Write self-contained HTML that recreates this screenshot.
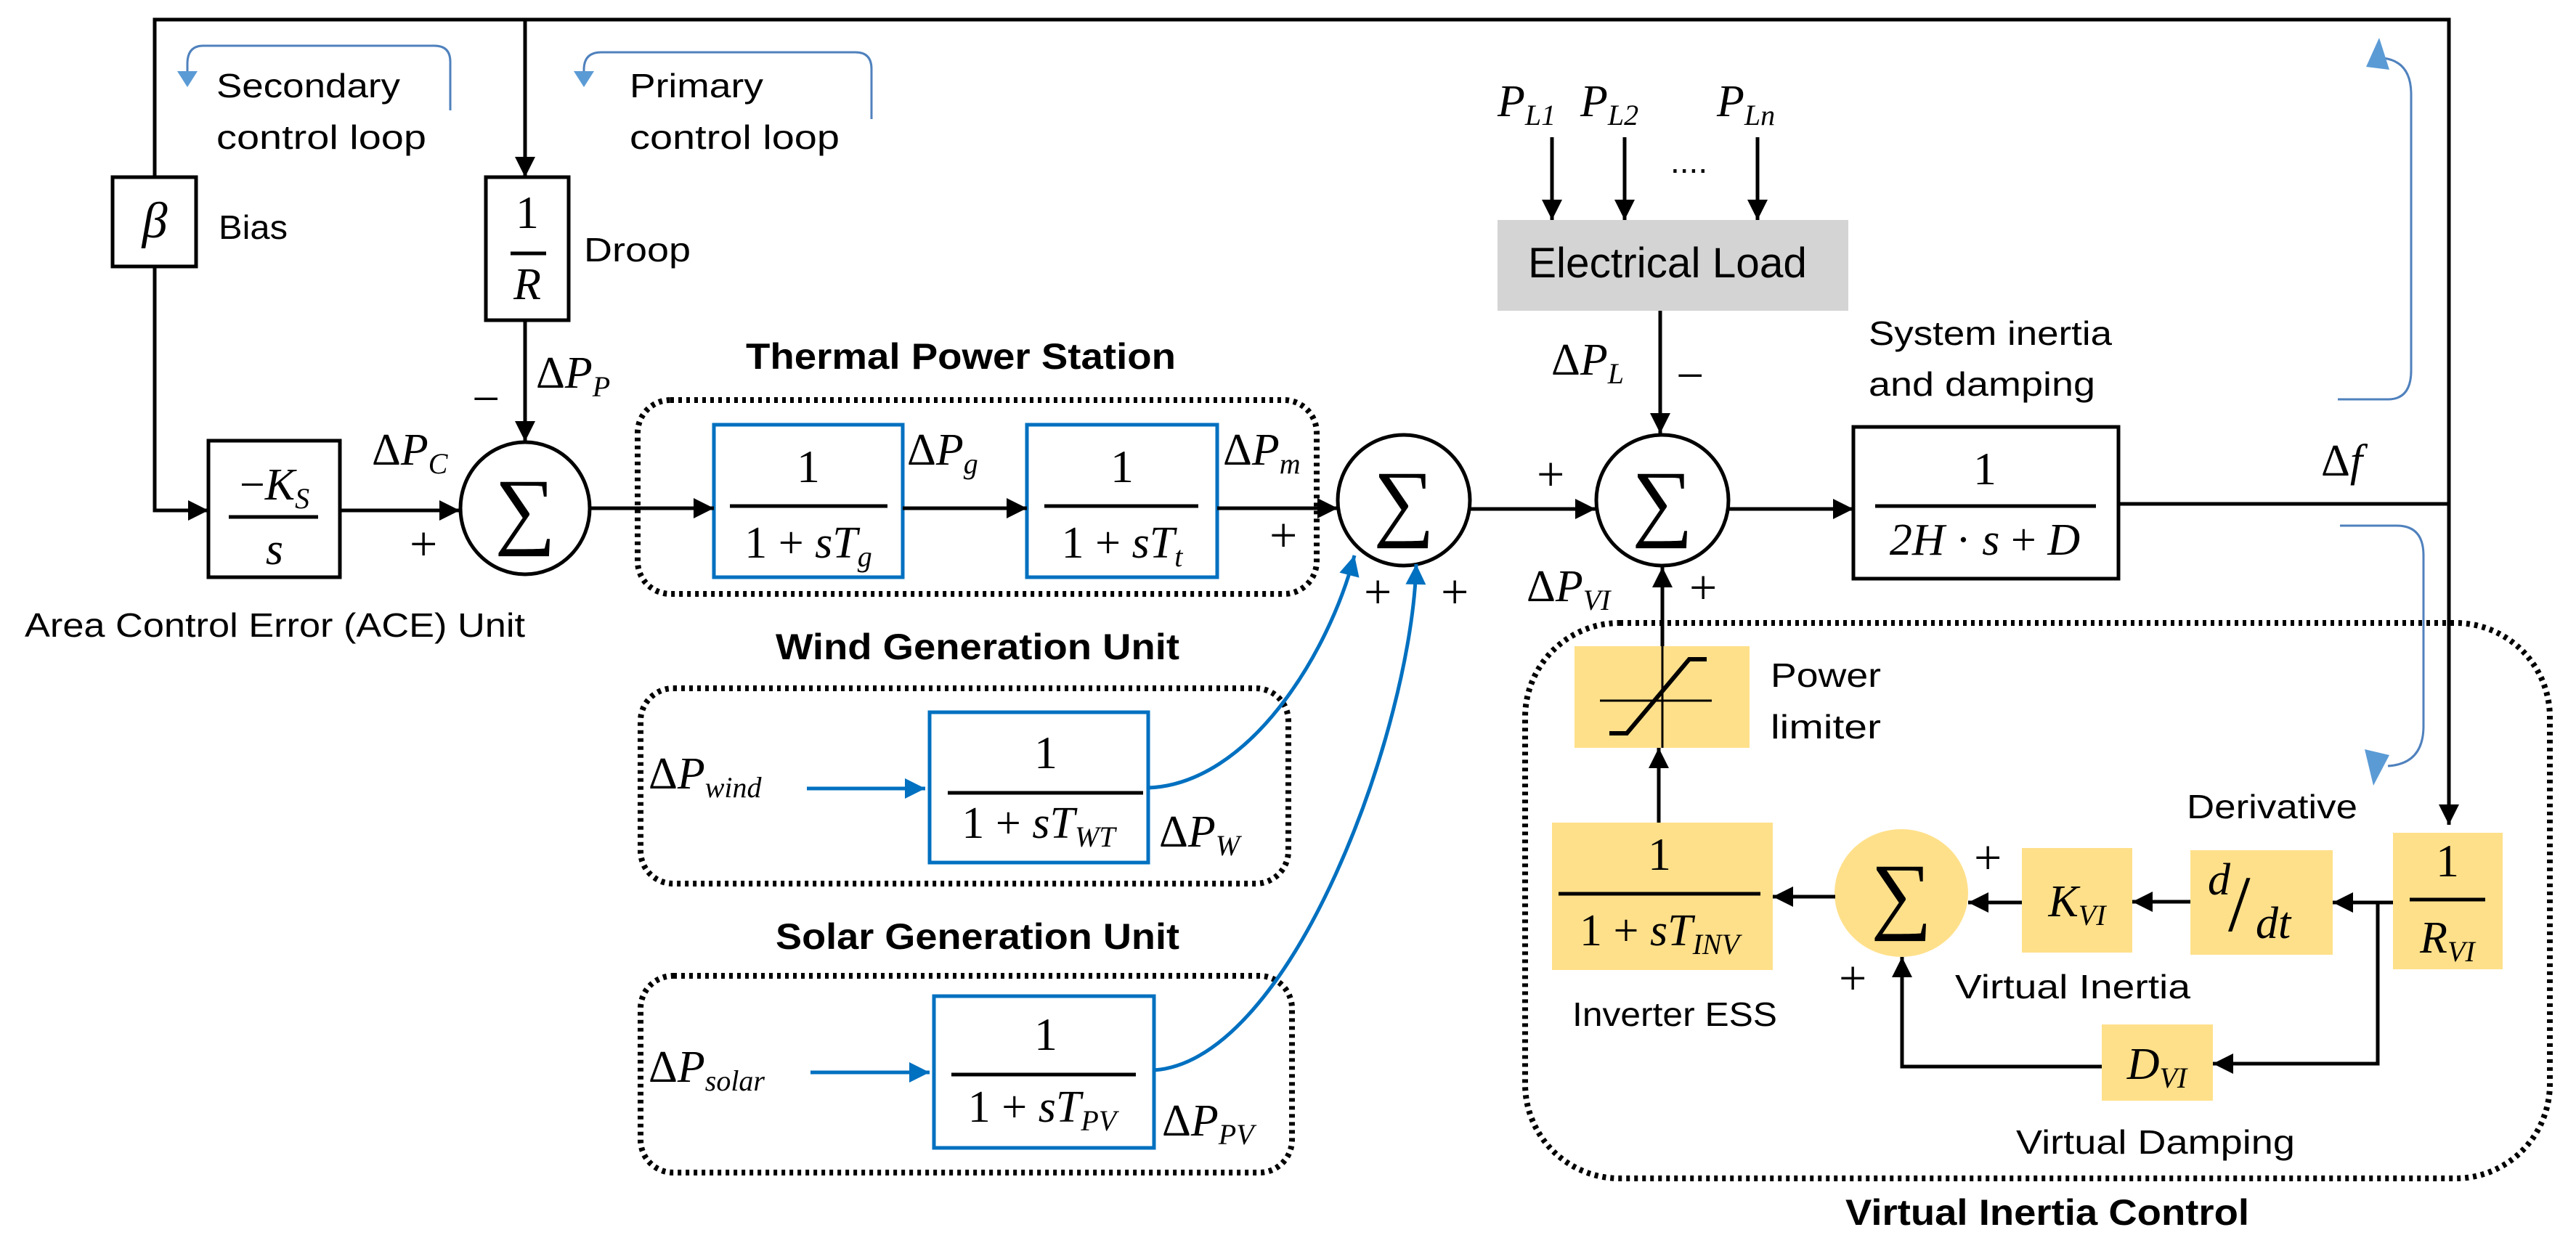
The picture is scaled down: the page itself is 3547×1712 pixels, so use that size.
<!DOCTYPE html>
<html><head><meta charset="utf-8"><style>
html,body{margin:0;padding:0;background:#fff;}
svg{display:block;}
.t{font-family:"Liberation Sans",sans-serif;font-size:46px;fill:#000;}
.b{font-family:"Liberation Sans",sans-serif;font-size:50px;font-weight:bold;fill:#000;}
.m{font-family:"Liberation Serif",serif;font-style:italic;font-size:62px;fill:#000;}
.n{font-family:"Liberation Serif",serif;font-size:64px;fill:#000;}
.s{font-size:40px;}
.sg{font-size:118px;}
.pm{font-size:68px;}
.k{stroke:#000;stroke-width:5;fill:none;}
.bl{stroke:#0070C0;stroke-width:5;fill:none;}
.lp{stroke:#4F81BD;stroke-width:3;fill:none;}
.dot{stroke:#000;stroke-width:8;stroke-dasharray:5 6;fill:none;}
</style></head><body>
<svg width="3547" height="1712" viewBox="0 0 3547 1712" xmlns="http://www.w3.org/2000/svg">
<defs>
<marker id="a" viewBox="0 0 10 10" refX="10" refY="5" markerWidth="32" markerHeight="28" markerUnits="userSpaceOnUse" orient="auto"><path d="M0,0 L10,5 L0,10 z" fill="#000"/></marker>
<marker id="ab" viewBox="0 0 10 10" refX="10" refY="5" markerWidth="32" markerHeight="28" markerUnits="userSpaceOnUse" orient="auto"><path d="M0,0 L10,5 L0,10 z" fill="#0070C0"/></marker>
</defs>

<rect class="dot" x="878" y="551" width="935" height="267" rx="45"/>
<rect class="dot" x="882" y="948" width="892" height="269" rx="45"/>
<rect class="dot" x="882" y="1344" width="897" height="271" rx="45"/>
<rect class="dot" x="2100" y="858" width="1411" height="765" rx="130"/>

<rect x="155" y="244" width="115" height="123" fill="#fff" stroke="#000" stroke-width="5"/>
<rect x="669" y="244" width="114" height="197" fill="#fff" stroke="#000" stroke-width="5"/>
<rect x="287" y="607" width="181" height="188" fill="#fff" stroke="#000" stroke-width="5"/>
<rect x="983" y="585" width="260" height="210" fill="#fff" stroke="#0070C0" stroke-width="5"/>
<rect x="1414" y="585" width="262" height="210" fill="#fff" stroke="#0070C0" stroke-width="5"/>
<rect x="1280" y="981" width="301" height="207" fill="#fff" stroke="#0070C0" stroke-width="5"/>
<rect x="1286" y="1372" width="303" height="209" fill="#fff" stroke="#0070C0" stroke-width="5"/>
<rect x="2552" y="588" width="365" height="209" fill="#fff" stroke="#000" stroke-width="5"/>
<rect x="2062" y="303" width="483" height="125" fill="#d4d4d4"/>

<ellipse cx="723" cy="700" rx="89" ry="91" fill="#fff" stroke="#000" stroke-width="5"/>
<ellipse cx="1933" cy="689" rx="91" ry="90" fill="#fff" stroke="#000" stroke-width="5"/>
<ellipse cx="2289" cy="689" rx="91" ry="90" fill="#fff" stroke="#000" stroke-width="5"/>

<g fill="#FFE08A">
<rect x="2168" y="890" width="241" height="140"/>
<rect x="2137" y="1133" width="304" height="203"/>
<ellipse cx="2618" cy="1230" rx="92" ry="88"/>
<rect x="2784" y="1168" width="152" height="144"/>
<rect x="3016" y="1171" width="196" height="144"/>
<rect x="3295" y="1147" width="151" height="188"/>
<rect x="2894" y="1411" width="153" height="105"/>
</g>

<path class="k" d="M213,244 V27 H3372 V1136" marker-end="url(#a)"/>
<path class="k" d="M213,367 V703 H287" marker-end="url(#a)"/>
<path class="k" d="M723,27 V244" marker-end="url(#a)"/>
<path class="k" d="M723,441 V608" marker-end="url(#a)"/>
<path class="k" d="M468,703 H633" marker-end="url(#a)"/>
<path class="k" d="M813,700 H983" marker-end="url(#a)"/>
<path class="k" d="M1243,700 H1414" marker-end="url(#a)"/>
<path class="k" d="M1676,700 H1842" marker-end="url(#a)"/>
<path class="k" d="M2025,701 H2197" marker-end="url(#a)"/>
<path class="k" d="M2381,701 H2552" marker-end="url(#a)"/>
<path class="k" d="M2917,694 H3372"/>
<path class="k" d="M2137,189 V303" marker-end="url(#a)"/>
<path class="k" d="M2237,189 V303" marker-end="url(#a)"/>
<path class="k" d="M2420,189 V303" marker-end="url(#a)"/>
<path class="k" d="M2286,428 V597" marker-end="url(#a)"/>
<path class="k" d="M2284,1133 V1030" marker-end="url(#a)"/>
<path class="k" d="M2289,890 V781" marker-end="url(#a)"/>
<path class="k" d="M2527,1235 H2441" marker-end="url(#a)"/>
<path class="k" d="M2784,1243 H2710" marker-end="url(#a)"/>
<path class="k" d="M3016,1242 H2936" marker-end="url(#a)"/>
<path class="k" d="M3295,1243 H3212" marker-end="url(#a)"/>
<path class="k" d="M3274,1243 V1465 H3047" marker-end="url(#a)"/>
<path class="k" d="M2894,1469 H2619 V1318" marker-end="url(#a)"/>

<path d="M2203,965 H2357" stroke="#000" stroke-width="3"/>
<path d="M2289,1030 V890" stroke="#000" stroke-width="3"/>
<path d="M2216,1010 H2240 L2326,908 H2350" stroke="#000" stroke-width="6" fill="none"/>

<path class="bl" d="M1111,1086 H1274" marker-end="url(#ab)"/>
<path class="bl" d="M1116,1477 H1280" marker-end="url(#ab)"/>
<path class="bl" d="M1581,1085 C1720,1080 1830,900 1865,765" marker-end="url(#ab)"/>
<path class="bl" d="M1589,1474 C1780,1460 1945,1000 1950,777" marker-end="url(#ab)"/>

<path class="lp" d="M620,152 V85 Q620,63 598,63 H280 Q258,63 258,88 V100"/>
<polygon points="244,98 272,98 258,120" fill="#5B9BD5"/>
<path class="lp" d="M1200,164 V95 Q1200,72 1178,72 H828 Q804,72 804,96 V100"/>
<polygon points="790,98 818,98 804,120" fill="#5B9BD5"/>
<path class="lp" d="M3219,550 H3288 Q3320,550 3320,510 V130 Q3320,85 3282,80"/>
<polygon points="3276,52 3258,92 3290,96" fill="#5B9BD5"/>
<path class="lp" d="M3222,724 H3300 Q3337,724 3337,765 V1000 Q3337,1052 3288,1055"/>
<polygon points="3268,1082 3256,1032 3290,1040" fill="#5B9BD5"/>

<text class="n sg" x="723" y="741" text-anchor="middle">∑</text>
<text class="n sg" x="1933" y="730" text-anchor="middle">∑</text>
<text class="n sg" x="2289" y="730" text-anchor="middle">∑</text>
<text class="n sg" x="2618" y="1271" text-anchor="middle">∑</text>

<text class="m" x="213" y="327" style="font-size:70px" text-anchor="middle">β</text>
<text class="n" x="726" y="314" text-anchor="middle">1</text>
<path d="M703,349 H752" stroke="#000" stroke-width="5"/>
<text class="m" x="726" y="412" text-anchor="middle">R</text>
<text class="m" x="378" y="688" text-anchor="middle"><tspan font-style="normal">−</tspan>K<tspan class="s" dy="12">S</tspan></text>
<path d="M315,712 H438" stroke="#000" stroke-width="5"/>
<text class="m" x="378" y="777" text-anchor="middle">s</text>

<text class="n" x="1113" y="664" text-anchor="middle">1</text>
<path d="M1005,697 H1222" stroke="#000" stroke-width="5"/>
<text class="m" x="1113" y="768" text-anchor="middle"><tspan font-style="normal">1 + </tspan>sT<tspan class="s" dy="12">g</tspan></text>
<text class="n" x="1545" y="664" text-anchor="middle">1</text>
<path d="M1438,697 H1650" stroke="#000" stroke-width="5"/>
<text class="m" x="1545" y="768" text-anchor="middle"><tspan font-style="normal">1 + </tspan>sT<tspan class="s" dy="12">t</tspan></text>

<text class="n" x="1440" y="1058" text-anchor="middle">1</text>
<path d="M1305,1092 H1574" stroke="#000" stroke-width="5"/>
<text class="m" x="1430" y="1154" text-anchor="middle"><tspan font-style="normal">1 + </tspan>sT<tspan class="s" dy="12">WT</tspan></text>
<text class="n" x="1440" y="1446" text-anchor="middle">1</text>
<path d="M1310,1480 H1564" stroke="#000" stroke-width="5"/>
<text class="m" x="1435" y="1545" text-anchor="middle"><tspan font-style="normal">1 + </tspan>sT<tspan class="s" dy="12">PV</tspan></text>

<text class="n" x="2733" y="667" text-anchor="middle">1</text>
<path d="M2582,697 H2886" stroke="#000" stroke-width="5"/>
<text class="m" x="2733" y="764" text-anchor="middle">2H<tspan font-style="normal"> · </tspan>s<tspan font-style="normal"> + </tspan>D</text>

<text class="n" x="2285" y="1198" text-anchor="middle">1</text>
<path d="M2146,1231 H2424" stroke="#000" stroke-width="5"/>
<text class="m" x="2285" y="1302" text-anchor="middle"><tspan font-style="normal">1 + </tspan>sT<tspan class="s" dy="12">INV</tspan></text>
<text class="m" x="2860" y="1262" text-anchor="middle">K<tspan class="s" dy="12">VI</tspan></text>
<text class="m" x="3040" y="1232">d</text>
<text class="n" x="3068" y="1282" style="font-size:110px">/</text>
<text class="m" x="3106" y="1292">dt</text>
<text class="n" x="3370" y="1207" text-anchor="middle">1</text>
<path d="M3318,1239 H3422" stroke="#000" stroke-width="5"/>
<text class="m" x="3370" y="1312" text-anchor="middle">R<tspan class="s" dy="12">VI</tspan></text>
<text class="m" x="2970" y="1486" text-anchor="middle">D<tspan class="s" dy="12">VI</tspan></text>

<text class="m" x="512" y="640"><tspan font-style="normal">Δ</tspan>P<tspan class="s" dy="12">C</tspan></text>
<text class="m" x="738" y="534"><tspan font-style="normal">Δ</tspan>P<tspan class="s" dy="12">P</tspan></text>
<text class="n pm" x="650" y="572">−</text>
<text class="n pm" x="564" y="772">+</text>
<text class="m" x="1249" y="640"><tspan font-style="normal">Δ</tspan>P<tspan class="s" dy="12">g</tspan></text>
<text class="m" x="1684" y="640"><tspan font-style="normal">Δ</tspan>P<tspan class="s" dy="12">m</tspan></text>
<text class="n pm" x="1748" y="760">+</text>
<text class="n pm" x="1878" y="838">+</text>
<text class="n pm" x="1984" y="838">+</text>
<text class="n pm" x="2116" y="676">+</text>
<text class="m" x="2136" y="516"><tspan font-style="normal">Δ</tspan>P<tspan class="s" dy="12">L</tspan></text>
<text class="n pm" x="2308" y="540">−</text>
<text class="m" x="2102" y="828"><tspan font-style="normal">Δ</tspan>P<tspan class="s" dy="12">VI</tspan></text>
<text class="n pm" x="2326" y="832">+</text>
<text class="m" x="3196" y="655"><tspan font-style="normal">Δ</tspan>f</text>
<text class="m" x="2062" y="160">P<tspan class="s" dy="12">L1</tspan></text>
<text class="m" x="2176" y="160">P<tspan class="s" dy="12">L2</tspan></text>
<text class="m" x="2364" y="160">P<tspan class="s" dy="12">Ln</tspan></text>
<text class="t" x="2300" y="238">....</text>
<text class="m" x="893" y="1086"><tspan font-style="normal">Δ</tspan>P<tspan class="s" dy="12">wind</tspan></text>
<text class="m" x="1596" y="1166"><tspan font-style="normal">Δ</tspan>P<tspan class="s" dy="12">W</tspan></text>
<text class="m" x="893" y="1490"><tspan font-style="normal">Δ</tspan>P<tspan class="s" dy="12">solar</tspan></text>
<text class="m" x="1600" y="1564"><tspan font-style="normal">Δ</tspan>P<tspan class="s" dy="12">PV</tspan></text>
<text class="n pm" x="2718" y="1204">+</text>
<text class="n pm" x="2532" y="1370">+</text>

<text class="t" x="298" y="134" textLength="253" lengthAdjust="spacingAndGlyphs">Secondary</text>
<text class="t" x="298" y="205" textLength="289" lengthAdjust="spacingAndGlyphs">control loop</text>
<text class="t" x="867" y="134" textLength="184" lengthAdjust="spacingAndGlyphs">Primary</text>
<text class="t" x="867" y="205" textLength="289" lengthAdjust="spacingAndGlyphs">control loop</text>
<text class="t" x="301" y="329" textLength="95" lengthAdjust="spacingAndGlyphs">Bias</text>
<text class="t" x="804" y="360" textLength="147" lengthAdjust="spacingAndGlyphs">Droop</text>
<text class="t" x="34" y="877" textLength="689" lengthAdjust="spacingAndGlyphs">Area Control Error (ACE) Unit</text>
<text class="t" x="2104" y="382" style="font-size:58px" textLength="384" lengthAdjust="spacingAndGlyphs">Electrical Load</text>
<text class="t" x="2573" y="475" textLength="335" lengthAdjust="spacingAndGlyphs">System inertia</text>
<text class="t" x="2573" y="545" textLength="312" lengthAdjust="spacingAndGlyphs">and damping</text>
<text class="t" x="2438" y="946" textLength="152" lengthAdjust="spacingAndGlyphs">Power</text>
<text class="t" x="2438" y="1017" textLength="152" lengthAdjust="spacingAndGlyphs">limiter</text>
<text class="t" x="3011" y="1127" textLength="235" lengthAdjust="spacingAndGlyphs">Derivative</text>
<text class="t" x="2165" y="1413" textLength="282" lengthAdjust="spacingAndGlyphs">Inverter ESS</text>
<text class="t" x="2692" y="1375" textLength="324" lengthAdjust="spacingAndGlyphs">Virtual Inertia</text>
<text class="t" x="2776" y="1589" textLength="384" lengthAdjust="spacingAndGlyphs">Virtual Damping</text>
<text class="b" x="1027" y="508" textLength="592" lengthAdjust="spacingAndGlyphs">Thermal Power Station</text>
<text class="b" x="1068" y="908" textLength="556" lengthAdjust="spacingAndGlyphs">Wind Generation Unit</text>
<text class="b" x="1068" y="1307" textLength="556" lengthAdjust="spacingAndGlyphs">Solar Generation Unit</text>
<text class="b" x="2541" y="1687" textLength="556" lengthAdjust="spacingAndGlyphs">Virtual Inertia Control</text>
</svg>
</body></html>
